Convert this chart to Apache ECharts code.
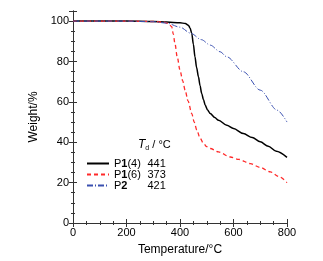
<!DOCTYPE html>
<html>
<head>
<meta charset="utf-8">
<script src="https://cdn.jsdelivr.net/npm/echarts@6/dist/echarts.min.js"></script>
<style>
  html, body { margin: 0; padding: 0; background: #fff; }
  #chart { width: 323px; height: 261px; }
</style>
</head>
<body>
<div id="chart"></div>
<script>
// TGA curves, [temperature, weight%]
var p14 = [[0,100],[100,100],[200,100],[300,99.8],[350,99.5],[400,99.2],[420,98.8],[431,98],[438,96.5],[444,93.9],[450,88.5],[456,82.3],[462,77],[469,72.4],[475,68],[481,64.2],[488,61],[494,58.4],[503,56],[513,54.2],[530,52.2],[544,50.9],[575,48.4],[600,46.8],[637,44.3],[670,42.3],[700,40.2],[730,38],[760,35.5],[800,32.5]];
var p16 = [[0,100],[200,100],[300,99.8],[340,99.5],[356,98.8],[369,97.2],[375,93.5],[381,88.9],[390,82],[400,75.7],[410,70.5],[419,65.8],[430,60.5],[444,54.2],[453,50],[463,46],[475,42],[488,39.4],[500,37.8],[513,36.9],[544,35.2],[588,32.7],[620,31.5],[663,29.4],[700,27.5],[738,25.3],[770,23],[800,20]];
var p2 = [[0,100],[200,100],[300,99.7],[350,99],[400,97],[440,94],[480,90.8],[513,88.1],[550,84.8],[575,82.3],[637,74.9],[700,65.8],[763,55.9],[800,50]];

var seriesNames = ['P1(4)', 'P1(6)', 'P2'];
var nameParts = [['P', '1', '(4)'], ['P', '1', '(6)'], ['P', '2', ' ']];
var tdValues = [441, 373, 421];

var chart = echarts.init(document.getElementById('chart'));
var font = 'Liberation Sans, Arial, sans-serif';

function frameAxis(pos, isX) {
  var ax = {
    type: 'value',
    position: pos,
    min: 0,
    max: isX ? 800 : 105,
    interval: isX ? 200 : 20,
    axisLine: { show: true, lineStyle: { color: '#333', width: 1 } },
    axisTick: { show: true, inside: true, length: 4, lineStyle: { color: '#333' } },
    minorTick: { show: true, splitNumber: 4, length: 2, lineStyle: { color: '#333' } },
    splitLine: { show: false },
    axisLabel: { show: false }
  };
  return ax;
}

var xBottom = frameAxis('bottom', true);
xBottom.axisLabel = { show: true, color: '#000', fontSize: 11, fontFamily: font, margin: 4 };
xBottom.name = 'Temperature/°C';
xBottom.nameLocation = 'middle';
xBottom.nameGap = 21;
xBottom.nameTextStyle = { color: '#000', fontSize: 12, fontFamily: font };

var yLeft = frameAxis('left', false);
yLeft.axisLabel = {
  show: true, color: '#000', fontSize: 11, fontFamily: font, margin: 4,
  formatter: function (v) { return v > 100 ? '' : v; }
};
yLeft.name = 'Weight/%';
yLeft.nameLocation = 'middle';
yLeft.nameGap = 30;
yLeft.nameTextStyle = { color: '#000', fontSize: 12, fontFamily: font };

var xTop = frameAxis('top', true);
var yRight = frameAxis('right', false);

function legendLabel(name) {
  var i = seriesNames.indexOf(name);
  var p = nameParts[i];
  return '{a|' + p[0] + '}{b|' + p[1] + '}{c|' + p[2] + '}{v|' + tdValues[i] + '}';
}

var rowStyle = { fontSize: 11, fontFamily: font, color: '#000', lineHeight: 11 };

chart.setOption({
  animation: false,
  grid: { left: 73, right: 36, top: 11, bottom: 38 },
  xAxis: [xBottom, xTop],
  yAxis: [yLeft, yRight],
  legend: {
    data: seriesNames,
    orient: 'vertical',
    left: 86,
    top: 158,
    padding: 0,
    itemWidth: 22,
    itemHeight: 8,
    itemGap: 0,
    formatter: legendLabel,
    itemStyle: { opacity: 0 },
    textStyle: {
      color: '#000', fontSize: 11, fontFamily: font, lineHeight: 11,
      rich: {
        a: rowStyle,
        b: Object.assign({}, rowStyle, { fontWeight: 'bold' }),
        c: Object.assign({}, rowStyle, { width: 20 }),
        v: rowStyle
      }
    }
  },
  graphic: [{
    type: 'text',
    left: 138,
    top: 139,
    style: {
      text: '{t|T}{s|d}{r| / °C}',
      rich: {
        t: { fontSize: 12, fontStyle: 'italic', fontFamily: font, fill: '#000' },
        s: { fontSize: 7, fontFamily: font, fill: '#000', padding: [6, 0, 0, 0] },
        r: { fontSize: 11, fontFamily: font, fill: '#000' }
      }
    }
  }],
  series: [
    {
      name: 'P1(4)', type: 'line', data: p14, symbol: 'none',
      smooth: 0.3, smoothMonotone: 'x',
      lineStyle: { color: '#000', width: 1.5, type: 'solid' },
      itemStyle: { color: '#000' }
    },
    {
      name: 'P1(6)', type: 'line', data: p16, symbol: 'none',
      smooth: 0.3, smoothMonotone: 'x',
      lineStyle: { color: '#ff2a2a', width: 1.3, type: [4, 3] },
      itemStyle: { color: '#ff2a2a' }
    },
    {
      name: 'P2', type: 'line', data: p2, symbol: 'none',
      smooth: 0.3, smoothMonotone: 'x',
      lineStyle: { color: '#3a50b0', width: 1, type: [6, 2, 1, 2] },
      itemStyle: { color: '#3a50b0' }
    }
  ]
});
</script>
</body>
</html>
